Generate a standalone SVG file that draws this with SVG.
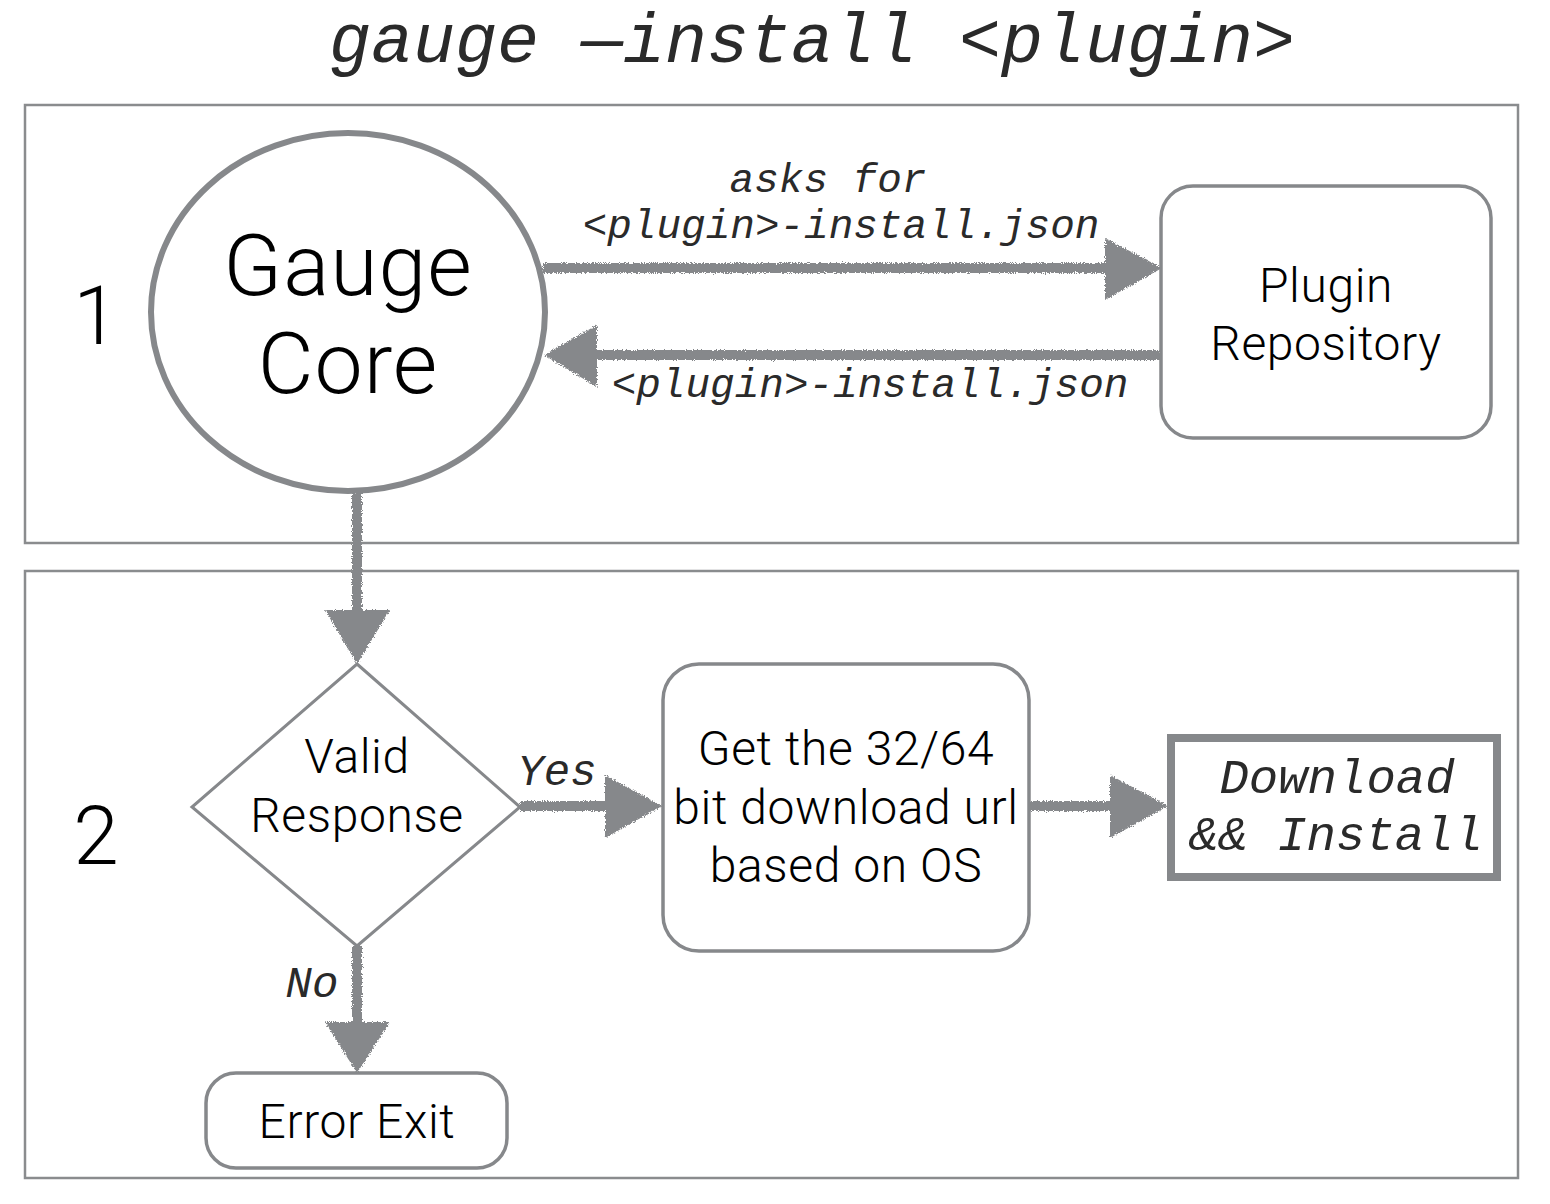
<svg xmlns="http://www.w3.org/2000/svg" width="1550" height="1204" viewBox="0 0 1550 1204">
<style>
.frame{fill:none;stroke:#8a8c8e;stroke-width:2.5}
.node{fill:#fff;stroke:#86888b;stroke-width:3.5}
.sans{font-family:Roboto,"Liberation Sans","Noto Sans",sans-serif;font-weight:300;fill:#000;text-anchor:middle}
.lbl{font-size:48px;letter-spacing:0.6px}
.mono{font-family:"Liberation Mono","DejaVu Sans Mono",monospace;font-style:italic;fill:#2a2a2a;text-anchor:middle}
.conn{stroke:#86888b;stroke-width:10;fill:none}
.head{fill:#86888b}
</style>
<defs>
<filter id="rough" x="-10%" y="-10%" width="120%" height="120%">
<feTurbulence type="fractalNoise" baseFrequency="0.9" numOctaves="2" seed="3" result="n"/>
<feDisplacementMap in="SourceGraphic" in2="n" scale="5" xChannelSelector="R" yChannelSelector="G"/>
</filter>
</defs>
<rect width="1550" height="1204" fill="#fff"/>
<text id="title" class="mono" x="812" y="62" font-size="70">gauge —install &lt;plugin&gt;</text>
<rect id="frame1" class="frame" x="25" y="105" width="1493" height="438"/>
<rect id="frame2" class="frame" x="25" y="571" width="1493" height="607"/>
<text id="step1" class="sans" x="96" y="344" font-size="82">1</text>
<text id="step2" class="sans" x="96" y="864" font-size="82">2</text>
<g id="connectors" filter="url(#rough)">
<line class="conn" x1="543" y1="268" x2="1110" y2="268"/>
<polygon class="head" points="1105,238 1162,268 1105,300"/>
<line class="conn" x1="1160" y1="355" x2="592" y2="355"/>
<polygon class="head" points="597,325 544,355 597,387"/>
<line class="conn" x1="357" y1="492" x2="357" y2="615"/>
<polygon class="head" points="325,610 357,664 390,610"/>
<line class="conn" x1="520" y1="806" x2="610" y2="806"/>
<polygon class="head" points="605,775 662,806 605,838"/>
<line class="conn" x1="1029" y1="806" x2="1115" y2="806"/>
<polygon class="head" points="1110,775 1168,806 1110,838"/>
<line class="conn" x1="357" y1="946" x2="357" y2="1027"/>
<polygon class="head" points="325,1022 357,1073 390,1022"/>
</g>
<g id="connector-labels">
<text class="mono" x="828" y="192" font-size="41">asks for</text>
<text class="mono" x="841" y="238" font-size="41">&lt;plugin&gt;-install.json</text>
<text class="mono" x="870" y="397" font-size="41">&lt;plugin&gt;-install.json</text>
<text class="mono" x="557" y="785" font-size="44">Yes</text>
<text class="mono" x="312" y="997" font-size="44">No</text>
</g>
<g id="gauge-core">
<ellipse cx="348" cy="312" rx="197" ry="179" fill="#fff" stroke="#86888b" stroke-width="6"/>
<text class="sans" x="348" y="295" font-size="86" letter-spacing="1">Gauge</text>
<text class="sans" x="348" y="393" font-size="86" letter-spacing="1">Core</text>
</g>
<g id="plugin-repository">
<rect class="node" x="1161" y="186" width="330" height="252" rx="32"/>
<text class="sans lbl" x="1326" y="302">Plugin</text>
<text class="sans lbl" x="1326" y="360">Repository</text>
</g>
<g id="valid-response">
<polygon fill="#fff" stroke="#86888b" stroke-width="3" points="357,664 520,807 357,946 192,807"/>
<text class="sans lbl" x="357" y="773">Valid</text>
<text class="sans lbl" x="357" y="832">Response</text>
</g>
<g id="get-url">
<rect class="node" x="663" y="664" width="366" height="287" rx="36"/>
<text class="sans lbl" x="846" y="765">Get the 32/64</text>
<text class="sans lbl" x="846" y="824">bit download url</text>
<text class="sans lbl" x="846" y="882">based on OS</text>
</g>
<g id="download-install">
<rect x="1171" y="738" width="326" height="139" fill="#fff" stroke="#86888b" stroke-width="8"/>
<text class="mono" x="1337" y="793" font-size="49">Download</text>
<text class="mono" x="1336" y="850" font-size="49">&amp;&amp; Install</text>
</g>
<g id="error-exit">
<rect class="node" x="206" y="1073" width="301" height="95" rx="30"/>
<text class="sans lbl" x="357" y="1138">Error Exit</text>
</g>
</svg>
